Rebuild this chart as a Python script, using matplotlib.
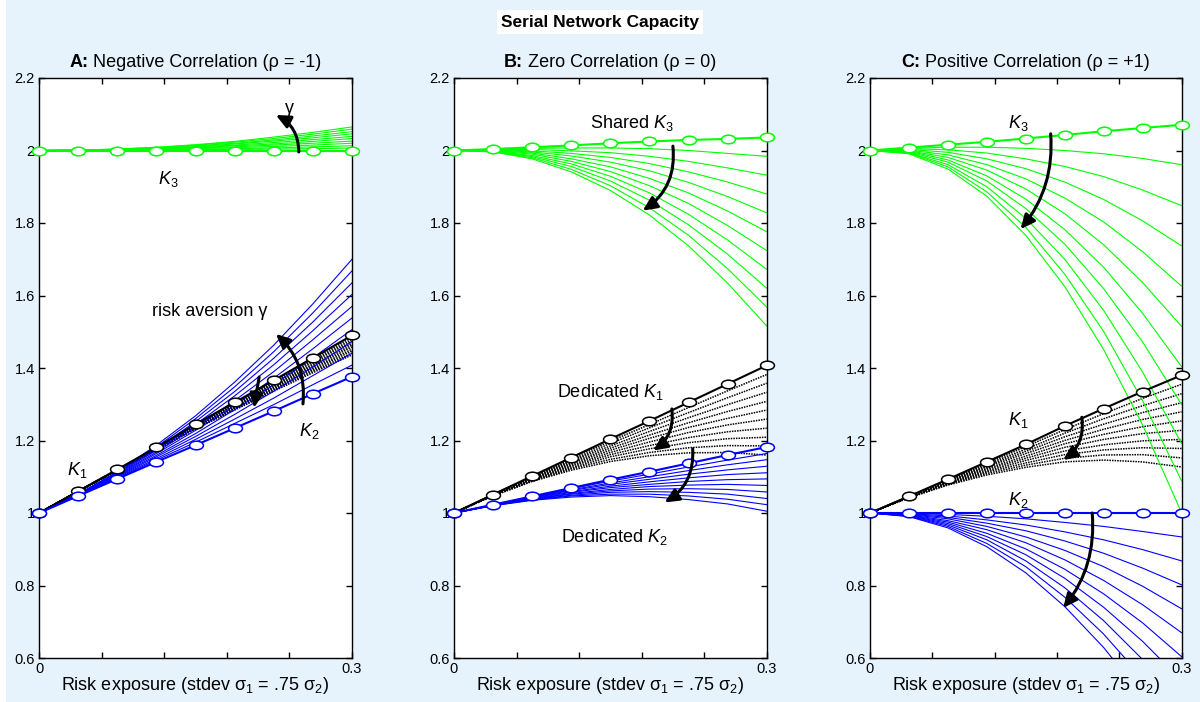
#!/usr/bin/env python3

import matplotlib
matplotlib.use("Agg")
import matplotlib.pyplot as plt
from matplotlib.patches import FancyArrowPatch, Rectangle
from matplotlib.path import Path
from matplotlib.transforms import Affine2D

plt.rcParams['font.family'] = ['Liberation Sans', 'DejaVu Sans']
plt.rcParams['mathtext.fontset'] = 'custom'
plt.rcParams['mathtext.rm'] = 'Liberation Sans'
plt.rcParams['mathtext.it'] = 'Liberation Sans:italic'
plt.rcParams['mathtext.bf'] = 'Liberation Sans:bold'

# risk exposure sigma_1 (grid of the solver)
sigma = [0.0, 0.0375, 0.075, 0.1125, 0.15, 0.1875, 0.225, 0.2625, 0.3]

# capacities, one row per risk aversion level; first row is gamma = 0
# --- A: rho = -1
K3_neg = [
    [2.000, 2.000, 2.000, 2.000, 2.000, 2.000, 2.000, 2.000, 2.000],
    [2.000, 2.000, 2.000, 2.001, 2.002, 2.003, 2.004, 2.005, 2.007],
    [2.000, 2.000, 2.001, 2.002, 2.003, 2.005, 2.007, 2.010, 2.013],
    [2.000, 2.000, 2.001, 2.003, 2.005, 2.008, 2.011, 2.015, 2.020],
    [2.000, 2.000, 2.002, 2.004, 2.007, 2.010, 2.015, 2.020, 2.026],
    [2.000, 2.001, 2.002, 2.005, 2.008, 2.013, 2.018, 2.025, 2.033],
    [2.000, 2.001, 2.002, 2.005, 2.010, 2.015, 2.022, 2.030, 2.039],
    [2.000, 2.001, 2.003, 2.006, 2.011, 2.018, 2.026, 2.035, 2.046],
    [2.000, 2.001, 2.003, 2.007, 2.013, 2.020, 2.029, 2.040, 2.052],
    [2.000, 2.001, 2.004, 2.008, 2.015, 2.023, 2.033, 2.045, 2.059],
    [2.000, 2.001, 2.004, 2.009, 2.016, 2.025, 2.037, 2.050, 2.065],
]
K1_neg = [
    [1.000, 1.060, 1.120, 1.181, 1.245, 1.305, 1.366, 1.428, 1.490],
    [1.000, 1.060, 1.120, 1.180, 1.244, 1.303, 1.363, 1.424, 1.485],
    [1.000, 1.060, 1.119, 1.179, 1.242, 1.301, 1.360, 1.420, 1.479],
    [1.000, 1.060, 1.119, 1.179, 1.241, 1.299, 1.357, 1.416, 1.474],
    [1.000, 1.060, 1.119, 1.178, 1.240, 1.297, 1.354, 1.411, 1.468],
    [1.000, 1.060, 1.118, 1.177, 1.238, 1.294, 1.351, 1.407, 1.463],
    [1.000, 1.059, 1.118, 1.176, 1.237, 1.292, 1.348, 1.403, 1.458],
    [1.000, 1.059, 1.118, 1.176, 1.236, 1.290, 1.345, 1.399, 1.452],
    [1.000, 1.059, 1.117, 1.175, 1.234, 1.288, 1.342, 1.395, 1.447],
    [1.000, 1.059, 1.117, 1.174, 1.233, 1.286, 1.339, 1.391, 1.441],
    [1.000, 1.059, 1.117, 1.173, 1.232, 1.284, 1.336, 1.387, 1.436],
]
K2_neg = [
    [1.000, 1.047, 1.094, 1.141, 1.187, 1.234, 1.281, 1.329, 1.376],
    [1.000, 1.048, 1.096, 1.146, 1.195, 1.247, 1.299, 1.354, 1.408],
    [1.000, 1.048, 1.098, 1.150, 1.203, 1.259, 1.317, 1.379, 1.441],
    [1.000, 1.049, 1.100, 1.155, 1.211, 1.272, 1.336, 1.403, 1.473],
    [1.000, 1.049, 1.102, 1.159, 1.219, 1.285, 1.354, 1.428, 1.506],
    [1.000, 1.050, 1.104, 1.164, 1.228, 1.297, 1.372, 1.453, 1.538],
    [1.000, 1.050, 1.106, 1.168, 1.236, 1.310, 1.390, 1.478, 1.570],
    [1.000, 1.051, 1.108, 1.173, 1.244, 1.323, 1.409, 1.503, 1.603],
    [1.000, 1.051, 1.110, 1.177, 1.252, 1.335, 1.427, 1.527, 1.635],
    [1.000, 1.052, 1.112, 1.182, 1.260, 1.348, 1.445, 1.552, 1.668],
    [1.000, 1.052, 1.114, 1.187, 1.268, 1.361, 1.463, 1.577, 1.700],
]

# --- B: rho = 0
K3_zero = [
    [2.000, 2.004, 2.009, 2.014, 2.020, 2.025, 2.029, 2.032, 2.036],
    [2.000, 2.003, 2.006, 2.007, 2.007, 2.005, 2.000, 1.992, 1.984],
    [2.000, 2.002, 2.003, 1.999, 1.994, 1.984, 1.970, 1.952, 1.932],
    [2.000, 2.002, 1.999, 1.992, 1.981, 1.964, 1.941, 1.913, 1.880],
    [2.000, 2.001, 1.996, 1.985, 1.968, 1.944, 1.912, 1.873, 1.828],
    [2.000, 2.000, 1.993, 1.977, 1.955, 1.923, 1.883, 1.833, 1.776],
    [2.000, 1.999, 1.990, 1.970, 1.942, 1.903, 1.854, 1.793, 1.724],
    [2.000, 1.998, 1.986, 1.963, 1.929, 1.883, 1.824, 1.753, 1.672],
    [2.000, 1.998, 1.983, 1.956, 1.916, 1.863, 1.795, 1.714, 1.620],
    [2.000, 1.997, 1.980, 1.948, 1.903, 1.842, 1.766, 1.674, 1.568],
    [2.000, 1.996, 1.977, 1.941, 1.890, 1.822, 1.737, 1.634, 1.516],
]
K1_zero = [
    [1.000, 1.051, 1.102, 1.153, 1.204, 1.254, 1.305, 1.356, 1.407],
    [1.000, 1.051, 1.100, 1.150, 1.198, 1.244, 1.291, 1.337, 1.382],
    [1.000, 1.050, 1.099, 1.146, 1.192, 1.235, 1.277, 1.318, 1.358],
    [1.000, 1.050, 1.097, 1.143, 1.185, 1.225, 1.263, 1.299, 1.333],
    [1.000, 1.049, 1.096, 1.139, 1.179, 1.215, 1.249, 1.280, 1.308],
    [1.000, 1.049, 1.094, 1.136, 1.173, 1.206, 1.236, 1.261, 1.284],
    [1.000, 1.049, 1.093, 1.132, 1.167, 1.196, 1.222, 1.243, 1.259],
    [1.000, 1.048, 1.091, 1.129, 1.161, 1.186, 1.208, 1.224, 1.234],
    [1.000, 1.048, 1.090, 1.125, 1.155, 1.177, 1.194, 1.205, 1.209],
    [1.000, 1.048, 1.088, 1.122, 1.148, 1.167, 1.180, 1.186, 1.185],
    [1.000, 1.047, 1.087, 1.118, 1.142, 1.158, 1.166, 1.167, 1.160],
]
K2_zero = [
    [1.000, 1.023, 1.046, 1.069, 1.092, 1.114, 1.137, 1.160, 1.182],
    [1.000, 1.023, 1.045, 1.067, 1.088, 1.107, 1.127, 1.146, 1.164],
    [1.000, 1.022, 1.044, 1.064, 1.083, 1.100, 1.117, 1.133, 1.147],
    [1.000, 1.022, 1.043, 1.062, 1.079, 1.093, 1.107, 1.119, 1.129],
    [1.000, 1.022, 1.042, 1.059, 1.074, 1.086, 1.097, 1.106, 1.111],
    [1.000, 1.022, 1.040, 1.057, 1.070, 1.079, 1.087, 1.092, 1.094],
    [1.000, 1.021, 1.039, 1.054, 1.065, 1.073, 1.077, 1.079, 1.076],
    [1.000, 1.021, 1.038, 1.052, 1.061, 1.066, 1.067, 1.065, 1.058],
    [1.000, 1.021, 1.037, 1.049, 1.057, 1.059, 1.057, 1.052, 1.040],
    [1.000, 1.021, 1.036, 1.047, 1.052, 1.052, 1.047, 1.038, 1.023],
    [1.000, 1.020, 1.035, 1.044, 1.048, 1.045, 1.037, 1.025, 1.005],
]

# --- C: rho = +1
K3_pos = [
    [2.000, 2.008, 2.016, 2.024, 2.033, 2.043, 2.053, 2.062, 2.071],
    [2.000, 2.006, 2.009, 2.009, 2.006, 2.000, 1.991, 1.978, 1.961],
    [2.000, 2.005, 2.002, 1.993, 1.977, 1.956, 1.928, 1.891, 1.848],
    [2.000, 2.003, 1.995, 1.977, 1.950, 1.913, 1.865, 1.806, 1.737],
    [2.000, 2.001, 1.988, 1.961, 1.922, 1.869, 1.803, 1.721, 1.626],
    [2.000, 1.999, 1.981, 1.946, 1.894, 1.826, 1.740, 1.636, 1.515],
    [2.000, 1.998, 1.974, 1.930, 1.866, 1.782, 1.678, 1.551, 1.404],
    [2.000, 1.996, 1.968, 1.916, 1.840, 1.742, 1.619, 1.472, 1.300],
    [2.000, 1.994, 1.961, 1.900, 1.813, 1.700, 1.559, 1.389, 1.192],
    [2.000, 1.993, 1.955, 1.886, 1.788, 1.659, 1.501, 1.310, 1.089],
    [2.000, 1.991, 1.949, 1.874, 1.766, 1.625, 1.451, 1.243, 1.001],
]
K1_pos = [
    [1.000, 1.046, 1.093, 1.141, 1.189, 1.240, 1.288, 1.335, 1.380],
    [1.000, 1.046, 1.091, 1.137, 1.183, 1.230, 1.274, 1.316, 1.355],
    [1.000, 1.045, 1.090, 1.134, 1.176, 1.220, 1.260, 1.296, 1.329],
    [1.000, 1.045, 1.088, 1.130, 1.170, 1.210, 1.245, 1.277, 1.304],
    [1.000, 1.044, 1.087, 1.127, 1.164, 1.200, 1.231, 1.258, 1.279],
    [1.000, 1.044, 1.085, 1.123, 1.157, 1.191, 1.217, 1.238, 1.254],
    [1.000, 1.044, 1.084, 1.120, 1.151, 1.181, 1.203, 1.219, 1.228],
    [1.000, 1.043, 1.082, 1.116, 1.145, 1.171, 1.188, 1.199, 1.203],
    [1.000, 1.043, 1.080, 1.113, 1.138, 1.161, 1.174, 1.180, 1.178],
    [1.000, 1.042, 1.079, 1.109, 1.132, 1.151, 1.160, 1.161, 1.152],
    [1.000, 1.042, 1.077, 1.105, 1.126, 1.141, 1.146, 1.141, 1.127],
]
K2_pos = [
    [1.000, 1.000, 1.000, 1.000, 1.000, 1.000, 1.000, 1.000, 1.000],
    [1.000, 0.999, 0.996, 0.991, 0.984, 0.974, 0.963, 0.949, 0.934],
    [1.000, 0.998, 0.992, 0.981, 0.967, 0.948, 0.926, 0.899, 0.868],
    [1.000, 0.997, 0.988, 0.972, 0.951, 0.923, 0.889, 0.848, 0.802],
    [1.000, 0.996, 0.984, 0.963, 0.934, 0.897, 0.852, 0.798, 0.736],
    [1.000, 0.995, 0.979, 0.954, 0.918, 0.871, 0.814, 0.747, 0.670],
    [1.000, 0.994, 0.975, 0.944, 0.901, 0.845, 0.777, 0.697, 0.604],
    [1.000, 0.993, 0.971, 0.935, 0.885, 0.820, 0.740, 0.646, 0.538],
    [1.000, 0.992, 0.967, 0.926, 0.868, 0.794, 0.703, 0.596, 0.472],
    [1.000, 0.991, 0.963, 0.916, 0.852, 0.768, 0.666, 0.545, 0.406],
    [1.000, 0.990, 0.959, 0.907, 0.835, 0.742, 0.629, 0.495, 0.340],
]

xticks = [0, 0.06, 0.12, 0.18, 0.24, 0.3]
xticklabels = ['0', '', '', '', '', '0.3']
yticks = [0.6, 0.8, 1.0, 1.2, 1.4, 1.6, 1.8, 2.0, 2.2]
yticklabels = ['0.6', '0.8', '1', '1.2', '1.4', '1.6', '1.8', '2', '2.2']

GREEN = '#00ff00'
BLUE = '#0000ff'
BG = '#e6f3fd'

# flattened open circle used for the gamma = 0 rows
oval = Path.unit_circle().transformed(Affine2D().scale(1.0, 0.62))

fig = plt.figure(figsize=(12, 7.02), dpi=100)
fig.patch.set_facecolor(BG)
fig.patches.append(Rectangle((0, 0), 6 / 1200, 1, transform=fig.transFigure,
                             facecolor='white', edgecolor='none', zorder=-1))

fig.text(0.5, 1 - 22 / 702, 'Serial Network Capacity', ha='center', va='center',
         fontsize=12.5, fontweight='bold',
         bbox=dict(facecolor='white', edgecolor='none', pad=3))

lefts = [39 / 1200, 454 / 1200, 870 / 1200]
widths = [313 / 1200, 312.7 / 1200, 311.5 / 1200]
bottom, height = 44 / 702, 580 / 702

titles = [('A:', ' Negative Correlation (ρ = -1)'),
          ('B:', ' Zero Correlation (ρ = 0)'),
          ('C:', ' Positive Correlation (ρ = +1)')]
panels = [(K1_neg, K2_neg, K3_neg), (K1_zero, K2_zero, K3_zero), (K1_pos, K2_pos, K3_pos)]

renderer = fig.canvas.get_renderer()

axes = []
for left, width, (tag, title), (k1, k2, k3) in zip(lefts, widths, titles, panels):
    ax = fig.add_axes([left, bottom, width, height])
    ax.set_facecolor('white')

    for row in k1[1:]:
        ax.plot(sigma, row, color='black', ls=(0, (1, 0.7)), lw=1.1)
    for row in k2[1:]:
        ax.plot(sigma, row, color=BLUE, lw=0.8)
    for row in k3[1:]:
        ax.plot(sigma, row, color=GREEN, lw=0.8)
    for curves, color in ((k1, 'black'), (k2, BLUE), (k3, GREEN)):
        ax.plot(sigma, curves[0], color=color, lw=1.5, marker=oval, ms=10,
                mfc='white', mec=color, mew=1.1, zorder=4, clip_on=False)

    ax.set_xlim(0, 0.3)
    ax.set_ylim(0.6, 2.2)
    ax.set_xticks(xticks)
    ax.set_xticklabels(xticklabels)
    ax.set_yticks(yticks)
    ax.set_yticklabels(yticklabels)
    ax.tick_params(direction='in', top=True, right=True, length=4, width=1,
                   labelsize=10.5, pad=3)
    for sp in ax.spines.values():
        sp.set_linewidth(1)

    # panel title: bold tag followed by plain text, centred as one line
    t_tag = ax.text(0, 1.026, tag, transform=ax.transAxes, ha='left', va='center',
                    fontsize=13, fontweight='bold')
    t_rest = ax.text(0, 1.026, title, transform=ax.transAxes, ha='left', va='center',
                     fontsize=13)
    w_tag = t_tag.get_window_extent(renderer).width
    w_rest = t_rest.get_window_extent(renderer).width
    ax_w = ax.get_window_extent(renderer).width
    x0 = 0.5 - (w_tag + w_rest) / 2 / ax_w
    t_tag.set_x(x0)
    t_rest.set_x(x0 + w_tag / ax_w)

    ax.text(0.5, -0.048, r'Risk exposure (stdev $\mathrm{\sigma}_1$ = .75 $\mathrm{\sigma}_2$)',
            transform=ax.transAxes, ha='center', va='center', fontsize=13)
    axes.append(ax)


def arrow(ax, tail, head, rad):
    ax.add_patch(FancyArrowPatch(tail, head, connectionstyle='arc3,rad=%g' % rad,
                                 arrowstyle='-|>,head_length=0.65,head_width=0.3',
                                 mutation_scale=13, lw=2.2, color='black',
                                 shrinkA=0, shrinkB=0, zorder=6))


def label(ax, x, y, s):
    ax.text(x, y, s, ha='center', va='center', fontsize=13, zorder=7)


axA, axB, axC = axes

# A: negative correlation
arrow(axA, (0.249, 1.996), (0.227, 2.098), 0.3)
label(axA, 0.240, 2.117, 'γ')
label(axA, 0.124, 1.922, '$K_3$')
label(axA, 0.164, 1.555, 'risk aversion γ')
arrow(axA, (0.253, 1.301), (0.227, 1.494), 0.25)
arrow(axA, (0.211, 1.375), (0.206, 1.290), 0.0)
label(axA, 0.037, 1.119, '$K_1$')
label(axA, 0.259, 1.225, '$K_2$')

# B: zero correlation
label(axB, 0.171, 2.076, 'Shared $K_3$')
arrow(axB, (0.210, 2.012), (0.181, 1.834), -0.3)
label(axB, 0.150, 1.335, 'Dedicated $K_1$')
arrow(axB, (0.209, 1.287), (0.191, 1.172), -0.3)
arrow(axB, (0.229, 1.177), (0.202, 1.029), -0.3)
label(axB, 0.154, 0.934, 'Dedicated $K_2$')

# C: positive correlation
label(axC, 0.143, 2.077, '$K_3$')
arrow(axC, (0.174, 2.046), (0.145, 1.783), -0.2)
label(axC, 0.143, 1.257, '$K_1$')
arrow(axC, (0.204, 1.264), (0.186, 1.146), -0.3)
label(axC, 0.143, 1.036, '$K_2$')
arrow(axC, (0.214, 1.000), (0.186, 0.738), -0.2)

fig.savefig('out.png', dpi=100, facecolor=fig.get_facecolor())
